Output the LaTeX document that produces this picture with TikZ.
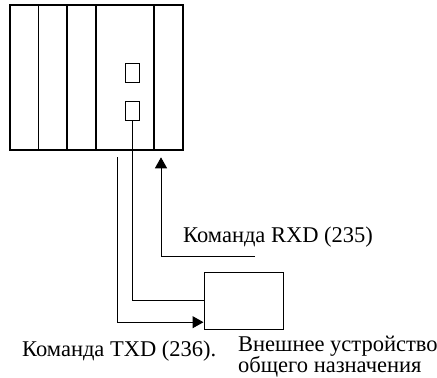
\documentclass[tikz,border=0pt]{standalone}
\usepackage{fontspec}
\setmainfont{Liberation Serif}
\usetikzlibrary{arrows.meta}
\begin{document}
\begin{tikzpicture}[
    x=1pt, y=-1pt,
    font=\fontsize{22.5}{21}\selectfont,
    modulo/.style={draw, line width=1.1pt, inner sep=0pt, minimum height=145pt},
    puerto/.style={draw, line width=1pt, inner sep=0pt, minimum width=14pt, minimum height=19pt},
    equipo/.style={draw, line width=1pt, inner sep=0pt, minimum width=79pt, minimum height=57pt},
    enlace/.style={line width=1pt},
    flecha/.style={enlace, -{Triangle[length=11pt,width=12pt]}},
    rotulo/.style={inner sep=0pt}]

  \useasboundingbox (0,0) rectangle (437,378);

  %% ============================== rack =====================================
  \foreach \i/\xa/\xb in {1/10/38.5, 2/38.5/67, 3/67/96, 4/96/154, 5/154/183}
    \node[modulo, minimum width={(\xb-\xa)*1pt}] (m\i) at ({(\xa+\xb)/2}, 77.5) {};
  \node[puerto] (pa) at (132, 72.5) {};
  \node[puerto] (pb) at (132, 111) {};

  %% ============================ device ======================================
  \node[equipo] (dev) at (243.5, 300.5) {};

  %% ============================ links =======================================
  \coordinate (txd) at (117.3, 157.3);
  \coordinate (rxd) at (255, 256.7);
  \coordinate (rxdtip) at (161, 157.3);
  \draw[flecha] (txd) |- ([yshift=7.3pt]dev.south west);
  \draw[enlace] (pb.south) |- (dev.west);
  \draw[flecha] (rxd) -| (rxdtip);

  %% ============================ labels ======================================
  \node[rotulo, anchor=base west] (lrxd) at (183, 242.5) {Команда RXD (235)};
  \node[rotulo, anchor=base west] (ltxd) at (22, 356) {Команда TXD (236).};
  \node[rotulo, anchor=base west, align=left] (ldev) at (238, 372)
    {Внешнее устройство\\общего назначения};

\end{tikzpicture}
\end{document}
